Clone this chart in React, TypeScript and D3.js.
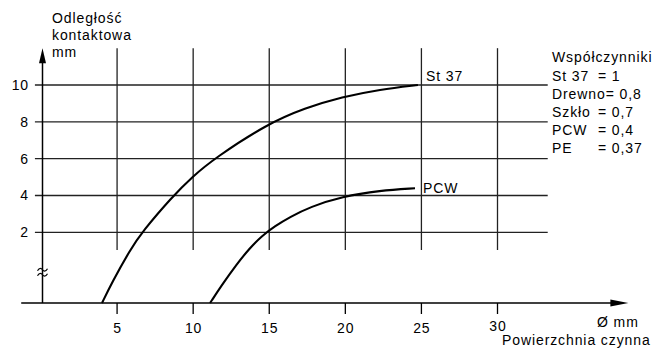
import React from "react";
import * as d3 from "d3";

const xTicks = [5, 10, 15, 20, 25, 30];
const yTicks = [2, 4, 6, 8, 10];

const st37X = [4.01, 4.65, 5.85, 6.64, 8.61, 9.92, 11.43, 14.86, 17.35, 19.78, 22.28, 24.77];
const st37Y = [0, 0.566, 1.5, 2.016, 3.917, 5.0, 6.036, 7.88, 8.75, 9.35, 9.76, 10];

const pcwX = [11.11, 11.89, 12.81, 13.73, 14.52, 15.38, 16.36, 17.68, 19.78, 22.28, 24.58];
const pcwY = [0, 0.51, 1.07, 1.56, 1.9, 2.34, 2.83, 3.38, 3.94, 4.27, 4.39];

const curveLabels = ["St 37", "PCW"];

const coefTitle = "Współczynniki";
const coefNames = ["St 37", "Drewno", "Szkło", "PCW", "PE"];
const coefValues = ["1", "0,8", "0,7", "0,4", "0,37"];

const yTitle = ["Odległość", "kontaktowa", "mm"];
const xUnit = "Ø mm";
const xTitle = "Powierzchnia czynna";

const W = 667;
const H = 352;

export default function App() {
  const x = d3.scaleLinear().domain([0, 30]).range([41, 497.5]);
  // broken axis: the part below 2 is compressed (axis break)
  const y = d3.scaleLinear().domain([0, 2, 10]).range([303, 232.3, 85]);

  const line = d3
    .line<[number, number]>()
    .x((d) => x(d[0]))
    .y((d) => y(d[1]))
    .curve(d3.curveBasis);

  const st37 = st37X.map((v, i) => [v, st37Y[i]] as [number, number]);
  const pcw = pcwX.map((v, i) => [v, pcwY[i]] as [number, number]);
  const series = [st37, pcw];

  const font = "'Liberation Sans', Arial, Helvetica, sans-serif";
  const ls = 0.9;
  const gridColor = "#222";

  const x0 = x(0) + 1.5;
  const yTop = y(12);
  const yBase = y(0);
  const xAxisStart = x(-1.3);
  const xAxisEnd = x(38.6);
  const yBreak = y(0.87);

  const tilde = (cy: number) =>
    `M${x0 - 5},${cy + 1} C${x0 - 3},${cy - 2.5} ${x0 - 1},${cy - 1.5} ${x0},${cy} S${x0 + 3},${cy + 2.5} ${x0 + 5},${cy - 1}`;

  return (
    <svg
      width={W}
      height={H}
      style={{ position: "fixed", left: 0, top: 0, background: "#fff" }}
      fontFamily={font}
      fontSize={14}
      letterSpacing={ls}
    >
      <rect x={0} y={0} width={W} height={H} fill="#fff" />
      {/* horizontal grid */}
      {yTicks.map((t) => (
        <line
          key={"h" + t}
          x1={x(-0.4)}
          x2={x(33.3)}
          y1={y(t)}
          y2={y(t)}
          stroke={gridColor}
          strokeWidth={1.3}
        />
      ))}
      {/* vertical grid */}
      {xTicks.map((t) => (
        <line
          key={"v" + t}
          x1={x(t)}
          x2={x(t)}
          y1={yTop}
          y2={y(1.5)}
          stroke={gridColor}
          strokeWidth={1.3}
        />
      ))}
      {/* y axis */}
      <line x1={x0} x2={x0} y1={yBase} y2={yTop + 12} stroke="#000" strokeWidth={1.5} />
      <path
        d={`M${x0},${yTop} L${x0 - 3.5},${yTop + 15} L${x0 + 3.5},${yTop + 15} Z`}
        fill="#000"
      />
      {/* break symbol */}
      <path d={tilde(yBreak - 2.5)} fill="none" stroke="#000" strokeWidth={1.2} />
      <path d={tilde(yBreak + 2.5)} fill="none" stroke="#000" strokeWidth={1.2} />
      {/* x axis */}
      <line x1={xAxisStart} x2={xAxisEnd - 14} y1={yBase} y2={yBase} stroke="#000" strokeWidth={1.5} />
      <path
        d={`M${xAxisEnd},${yBase} L${xAxisEnd - 18},${yBase - 3.5} L${xAxisEnd - 18},${yBase + 3.5} Z`}
        fill="#000"
      />
      {xTicks.map((t) => (
        <g key={"xt" + t}>
          <line x1={x(t)} x2={x(t)} y1={yBase} y2={yBase + 11} stroke="#000" strokeWidth={1.3} />
          <text x={x(t) + ls / 2} y={t === 30 ? 331 : 333} textAnchor="middle">
            {t}
          </text>
        </g>
      ))}
      {yTicks.map((t) => (
        <text key={"yt" + t} x={29} y={y(t) + 5} textAnchor="end">
          {t}
        </text>
      ))}
      {/* curves */}
      {series.map((s, i) => (
        <path key={"s" + i} d={line(s) || ""} fill="none" stroke="#000" strokeWidth={2.1} />
      ))}
      {series.map((s, i) => {
        const last = s[s.length - 1];
        return (
          <text key={"lbl" + i} x={x(last[0]) + 8} y={y(last[1]) - (i === 0 ? 4 : -5)}>
            {curveLabels[i]}
          </text>
        );
      })}
      {/* y title */}
      {yTitle.map((t, i) => (
        <text key={"yti" + i} x={52} y={23 + i * 17}>
          {t}
        </text>
      ))}
      {/* x titles */}
      <text x={597} y={327}>
        {xUnit}
      </text>
      <text x={502} y={345}>
        {xTitle}
      </text>
      {/* coefficients */}
      <text x={552} y={62}>
        {coefTitle}
      </text>
      {coefNames.map((n, i) => {
        const yy = 81 + i * 18;
        const long = n.length > 5;
        return (
          <text key={"c" + i} x={552} y={yy}>
            <tspan>{n}</tspan>
            {long ? (
              <tspan dx={0}>{"= " + coefValues[i]}</tspan>
            ) : (
              <tspan x={598}>{"= " + coefValues[i]}</tspan>
            )}
          </text>
        );
      })}
    </svg>
  );
}
